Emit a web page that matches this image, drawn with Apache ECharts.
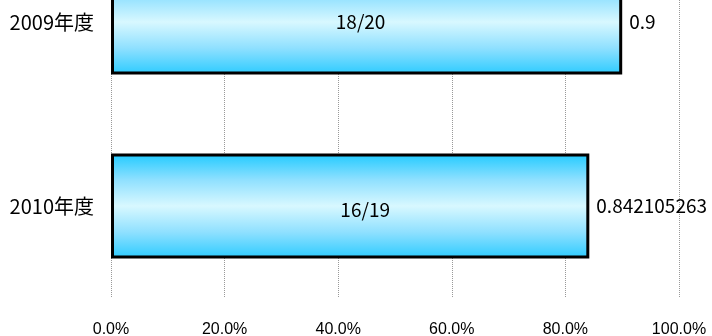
<!DOCTYPE html>
<html>
<head>
<meta charset="utf-8">
<script src="https://cdn.jsdelivr.net/npm/echarts@6/dist/echarts.min.js"></script>
<style>
html,body{margin:0;padding:0;background:#fff;}
#c{width:712px;height:336px;}
</style>
</head>
<body>
<div id="c"></div>
<script>
var categories = ['2009年度', '2010年度'];
var ratios = [0.9, 0.842105263];
var fractionLabels = ['18/20', '16/19'];
var valueLabels = ['0.9', '0.842105263'];
var tickValues = [0, 0.2, 0.4, 0.6, 0.8, 1.0];

// label nudges (style only)
var innerLabelOffsets = [[-6, 0], [15, 4]];

var chart = echarts.init(document.getElementById('c'));
var grad = new echarts.graphic.LinearGradient(0, 0, 0, 1, [
  {offset: 0, color: '#20caff'},
  {offset: 0.25, color: '#8fe0ff'},
  {offset: 0.5, color: '#d8f8ff'},
  {offset: 0.75, color: '#8fe0ff'},
  {offset: 1, color: '#2ccbff'}
]);
chart.setOption({
  animation: false,
  grid: {left: 111, right: 33, top: -70, bottom: 38, containLabel: false, outerBoundsMode: 'none'},
  xAxis: {
    type: 'value', min: 0, max: 1, interval: 0.2,
    axisLine: {show: false}, axisTick: {show: false},
    splitLine: {show: true, lineStyle: {type: 'dotted', color: '#999', width: 1}},
    axisLabel: {
      margin: 24, color: '#000', fontSize: 16, fontFamily: 'Liberation Sans',
      formatter: function (v) { return (v * 100).toFixed(1) + '%'; }
    }
  },
  yAxis: {
    type: 'category', data: categories, inverse: true,
    axisLine: {show: false}, axisTick: {show: false},
    axisLabel: {margin: 17, color: '#000', fontSize: 20, fontFamily: 'Noto Sans CJK JP'}
  },
  series: [
    {
      type: 'bar', data: ratios, barWidth: '57%',
      itemStyle: {color: grad, borderColor: '#000', borderWidth: 3},
      label: {
        show: true, position: 'right', distance: 7, color: '#000', fontSize: 19,
        fontFamily: 'Noto Sans CJK JP',
        formatter: function (p) { return valueLabels[p.dataIndex]; }
      },
      z: 2
    },
    {
      type: 'bar', barWidth: '57%', barGap: '-100%',
      data: ratios.map(function (v, i) {
        return {value: v, label: {offset: innerLabelOffsets[i]}};
      }),
      itemStyle: {color: 'transparent', borderWidth: 0},
      label: {
        show: true, position: 'inside', color: '#000', fontSize: 19,
        fontFamily: 'Noto Sans CJK JP',
        formatter: function (p) { return fractionLabels[p.dataIndex]; }
      },
      z: 3
    }
  ]
});
</script>
</body>
</html>
